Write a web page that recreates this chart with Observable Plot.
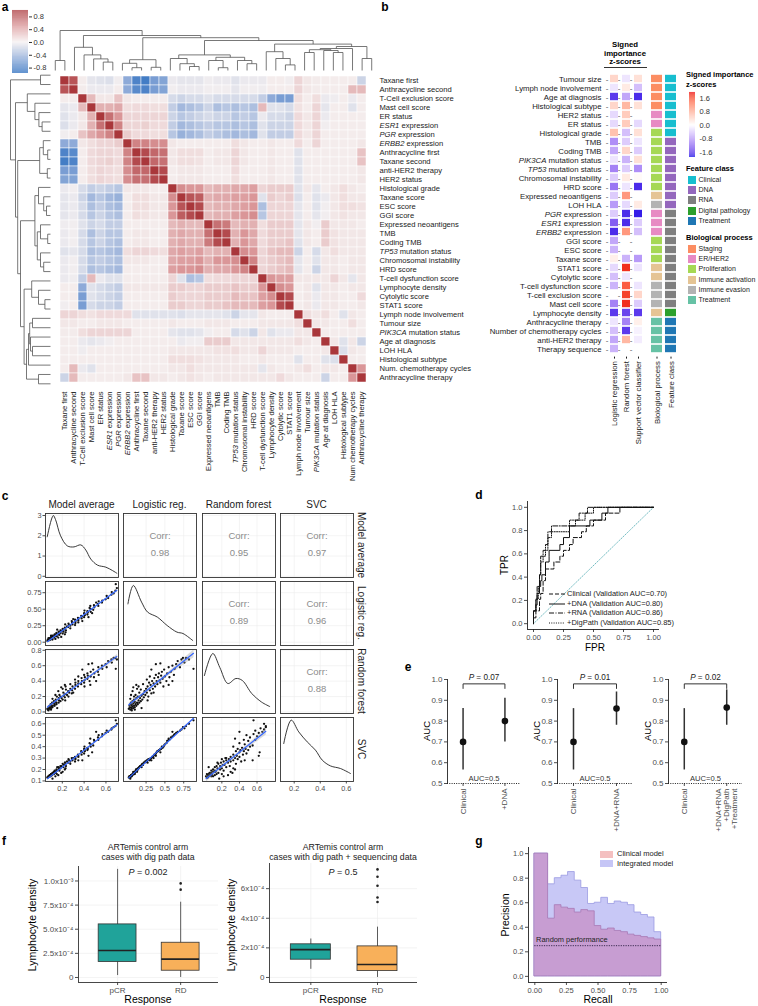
<!DOCTYPE html>
<html><head><meta charset="utf-8">
<script src="https://cdn.jsdelivr.net/npm/d3@7"></script>
<script src="https://cdn.jsdelivr.net/npm/@observablehq/plot@0.6"></script>
<style>
body{margin:0;background:#fff;}
#root{position:relative;width:758px;height:1006px;overflow:hidden;background:#fff;font-family:'Liberation Sans',Arial,Helvetica,sans-serif;}
#root svg{position:absolute;overflow:visible;}
</style></head><body><div id="root"></div>
<script>
// ---------------- DATA ----------------
// Panel a: feature correlation (lower triangle, clustered order)
const aRowLabels = ["Taxane first","Anthracycline second","T-Cell exclusion score","Mast cell score","ER status","ESR1 expression","PGR expression","ERBB2 expression","Anthracycline first","Taxane second","anti-HER2 therapy","HER2 status","Histological grade","Taxane score","ESC score","GGI score","Expressed neoantigens","TMB","Coding TMB","TP53 mutation status","Chromosomal instability","HRD score","T-cell dysfunction score","Lymphocyte density","Cytolytic score","STAT1 score","Lymph node involvement","Tumour size","PIK3CA mutation status","Age at diagnosis","LOH HLA","Histological subtype","Num. chemotherapy cycles","Anthracycline therapy"];
const aColLabels = ["Taxane first","Anthracycline second","T-Cell exclusion score","Mast cell score","ER status","ESR1 expression","PGR expression","ERBB2 expression","Anthracycline first","Taxane second","anti-HER2 therapy","HER2 status","Histological grade","Taxane score","ESC score","GGI score","Expressed neoantigens","TMB","Coding TMB","TP53 mutation status","Chromosomal instability","HRD score","T-cell dysfunction score","Lymphocyte density","Cytolytic score","STAT1 score","Lymph node involvement","Tumour size","PIK3CA mutation status","Age at diagnosis","LOH HLA","Histological subtype","Num chemotherapy cycles","Anthracycline therapy"];
const corrLower = [
[1],
[.85,1],
[.02,.03,1],
[-.08,-.05,.3,1],
[-.1,-.05,.05,.35,1],
[-.12,-.05,.05,.35,.7,1],
[-.02,.02,.25,.4,.5,.6,1],
[-.5,-.5,.05,.1,.15,.15,.2,1],
[-.8,-.75,.02,.12,.15,.15,.12,.6,1],
[-.85,-.8,.02,.12,.15,.18,.12,.6,.9,1],
[-.6,-.6,.02,.1,.15,.12,.1,.55,.75,.75,1],
[-.55,-.55,.02,.1,.15,.12,.1,.55,.7,.7,.9,1],
[-.05,-.02,-.15,-.25,-.2,-.25,-.3,.05,.05,.05,.02,.02,1],
[-.08,-.05,-.2,-.4,-.3,-.4,-.45,.02,.1,.1,.05,.05,.55,1],
[-.08,-.05,-.15,-.35,-.25,-.35,-.4,.02,.1,.1,.05,.05,.5,.85,1],
[-.08,-.05,-.15,-.3,-.2,-.3,-.35,.02,.1,.08,.05,.05,.5,.8,.9,1],
[-.03,-.02,-.1,-.2,-.15,-.25,-.25,.02,.02,.02,.02,.02,.3,.35,.3,.3,1],
[-.05,-.02,-.15,-.35,-.2,-.3,-.3,.02,.05,.05,.02,.02,.35,.4,.35,.35,.7,1],
[-.05,-.02,-.15,-.3,-.2,-.3,-.35,.02,.05,.05,.02,.02,.35,.4,.35,.35,.65,.9,1],
[-.1,-.08,-.15,-.35,-.3,-.35,-.4,.1,.15,.15,.12,.1,.4,.45,.4,.45,.3,.35,.35,1],
[-.05,-.02,-.15,-.3,-.25,-.3,-.35,.05,.05,.05,.02,.02,.4,.45,.45,.5,.35,.5,.5,.55,1],
[-.05,-.02,-.15,-.35,-.3,-.35,-.4,.02,.02,.02,.02,.02,.45,.5,.5,.55,.35,.4,.4,.5,.6,1],
[-.05,-.03,-.25,.3,-.05,-.1,-.1,.02,.02,.02,.02,.02,.15,-.1,-.35,-.3,.1,.12,.12,.15,.15,.15,1],
[.02,.02,-.5,-.1,-.15,-.2,-.25,.05,.05,.05,.05,.05,.2,.2,.15,.15,.2,.2,.2,.25,.2,.2,.5,1],
[.02,.02,-.6,-.1,-.15,-.2,-.25,.02,.02,.02,.02,.02,.2,.15,.15,.15,.2,.2,.2,.3,.25,.25,.45,.55,1],
[-.02,.02,-.6,-.15,-.2,-.2,-.25,.02,.02,.02,.02,.02,.2,.2,.15,.15,.2,.2,.25,.3,.3,.3,.45,.5,.9,1],
[.15,.15,.1,.08,.12,.12,.12,.12,-.1,-.1,-.1,-.1,-.1,-.12,-.08,-.08,-.08,-.08,-.1,-.2,-.08,-.08,.05,.02,.02,.02,1],
[.05,.05,.02,.02,.05,.05,.05,.02,.02,.02,.02,.02,.05,.02,.02,.02,.05,.05,.05,.02,.02,.02,.05,.05,.05,.05,.1,1],
[.03,.03,.1,.15,.15,.15,.15,.15,.02,.02,.02,.02,-.08,-.1,-.1,-.08,-.02,.02,.02,-.15,-.1,-.2,.05,-.1,-.05,-.05,.05,.05,1],
[.02,.02,-.05,-.08,-.05,-.02,.02,.02,.02,.02,.02,.02,.02,-.05,-.02,-.02,.2,.2,.2,.05,.05,.05,.05,.05,.05,.05,.1,.05,.02,1],
[.02,.02,-.03,.02,.02,.02,.02,.02,.02,.02,.02,.02,.05,.05,.05,.05,.05,.08,.08,.1,.05,.05,.15,.05,.05,.05,.02,.02,.02,.05,1],
[.02,.02,.02,.02,.02,.02,.02,.02,.02,.02,.02,.02,.1,.1,.1,.08,.05,.05,.05,.05,.02,.02,.05,.02,.02,.02,-.1,.02,.02,-.1,-.12,1],
[.02,.3,-.05,-.1,.02,.02,.02,.02,.02,.02,.02,.02,.05,.05,.1,.05,.05,.05,.05,.05,.05,.05,-.08,.05,.02,.02,.05,.1,.02,.05,.05,.02,1],
[-.2,.3,.02,.02,.02,.02,.02,.05,.25,.25,.05,.05,.02,.05,.08,.05,.02,.05,.05,.05,.05,.05,.05,.05,.12,.05,.02,.02,.02,-.2,.02,.02,.5,1]
];
// hierarchical clustering merges: [childA, childB, height]; numbers = leaves, "nK" = K-th merge
const aMerges = [
[1,2,.25],[6,7,.21],[5,"n1",.29],[4,"n2",.39],[3,"n3",.58],
[9,10,.07],[11,12,.08],[8,"n5",.18],["n7","n6",.27],
[15,16,.1],[14,"n9",.17],[13,"n10",.3],[18,19,.07],[17,"n12",.25],[21,22,.17],[20,"n14",.25],["n13","n15",.33],["n11","n16",.39],
[25,26,.14],[24,"n18",.3],[23,"n19",.47],
[27,28,.45],[30,31,.45],[29,"n22",.5],["n21","n23",.52],["n24",32,.55],[33,34,.3],["n25","n26",.6],
["n20","n27",.66],["n17","n28",.75],["n8","n29",.82],["n4","n30",.875],["n0","n31",1.0]
];
const aLegendTicks = [0.8,0.4,0,-0.4,-0.8];

// Panel b: signed importance z-scores
const bFeatures = ["Tumour size","Lymph node involvement","Age at diagnosis","Histological subtype","HER2 status","ER status","Histological grade","TMB","Coding TMB","PIK3CA mutation status","TP53 mutation status","Chromosomal instability","HRD score","Expressed neoantigens","LOH HLA","PGR expression","ESR1 expression","ERBB2 expression","GGI score","ESC score","Taxane score","STAT1 score","Cytolytic score","T-cell dysfunction score","T-cell exclusion score","Mast cell score","Lymphocyte density","Anthracycline therapy","Number of chemotherapy cycles","anti-HER2 therapy","Therapy sequence"];
const bModels = ["Logistic regression","Random forest","Support vector classifier"];
const zLR  = [0.4,-0.2,-1.6,0.4,-0.3,-0.3,0.6,-0.9,-0.7,-0.2,-1.0,-0.4,-1.1,-0.4,-0.8,-0.4,-1.3,-1.7,-0.7,-0.6,0.15,-0.3,-0.5,-0.6,null,-1.0,-1.6,-0.2,-0.5,-0.7,-0.6];
const zRF  = [-0.2,0.2,-0.7,0.7,0.5,0.5,-0.5,-0.4,0.4,-0.6,-0.4,0.2,-0.2,1.0,-0.3,-1.7,-1.7,1.0,null,null,-0.6,1.8,-0.2,1.5,1.7,1.8,-1.5,-1.0,-1.6,0.7,null];
const zSVC = [0.3,-0.5,-1.7,0.3,null,-0.3,0.3,-0.2,-0.4,0.3,-0.9,0.05,-1.7,null,0.2,-1.8,-0.4,-0.5,null,null,-0.8,-0.2,null,-0.2,0.4,-0.4,-1.6,0.15,-0.1,-0.15,null];
const bBio = ["Staging","Staging","Staging","Staging","ER/HER2","ER/HER2","Proliferation","Proliferation","Proliferation","Proliferation","Proliferation","Proliferation","Proliferation","Immune activation","Immune evasion","ER/HER2","ER/HER2","ER/HER2","Proliferation","Proliferation","Proliferation","Immune activation","Immune activation","Immune evasion","Immune evasion","Immune evasion","Immune activation","Treatment","Treatment","Treatment","Treatment"];
const bClass = ["Clinical","Clinical","Clinical","Clinical","Clinical","Clinical","Clinical","DNA","DNA","DNA","DNA","DNA","DNA","DNA","DNA","RNA","RNA","RNA","RNA","RNA","RNA","RNA","RNA","RNA","RNA","RNA","Digital pathology","Treatment","Treatment","Treatment","Treatment"];
const classNames = ["Clinical","DNA","RNA","Digital pathology","Treatment"];
const classColors = ["#17becf","#9467bd","#7f7f7f","#2ca02c","#1f77b4"];
const bioNames = ["Staging","ER/HER2","Proliferation","Immune activation","Immune evasion","Treatment"];
const bioColors = ["#fc8d62","#e78ac3","#a6d854","#e5c494","#b3b3b3","#66c2a5"];
const bLegendTicks = [1.6,0.8,0,-0.8,-1.6];

// Panel c: predicted probabilities per patient (logistic reg., random forest, SVC)
const lrP = [0.02,0.03,0.04,0.03,0.05,0.06,0.04,0.07,0.05,0.08, 0.06,0.09,0.07,0.10,0.08,0.11,0.09,0.12,0.10,0.13, 0.05,0.12,0.14,0.11,0.15,0.13,0.16,0.14,0.17,0.08, 0.18,0.16,0.19,0.20,0.12,0.21,0.18,0.22,0.04,0.06, 0.10,0.23,0.24,0.25,0.21,0.26,0.27,0.28,0.29,0.30, 0.26,0.31,0.32,0.33,0.34,0.30,0.35,0.36,0.37,0.38, 0.39,0.40,0.41,0.42,0.43,0.44,0.45,0.46,0.47,0.48, 0.49,0.50,0.52,0.53,0.55,0.56,0.58,0.60,0.62,0.63, 0.65,0.67,0.70,0.72,0.74,0.76,0.78,0.82,0.88,0.35, 0.27,0.15,0.19,0.09,0.38,0.44,0.32,0.55,0.60,0.07];
const rfP = [0.04,0.05,0.03,0.08,0.06,0.04,0.10,0.07,0.12,0.05, 0.09,0.08,0.14,0.06,0.11,0.10,0.16,0.08,0.13,0.12, 0.22,0.18,0.10,0.22,0.15,0.30,0.12,0.20,0.18,0.32, 0.14,0.25,0.21,0.16,0.35,0.23,0.29,0.19,0.17,0.02, 0.03,0.27,0.22,0.30,0.36,0.25,0.33,0.20,0.38,0.28, 0.42,0.35,0.24,0.40,0.30,0.46,0.37,0.44,0.33,0.48, 0.40,0.36,0.45,0.50,0.41,0.38,0.47,0.52,0.43,0.33, 0.55,0.46,0.40,0.50,0.58,0.45,0.52,0.60,0.48,0.56, 0.62,0.66,0.58,0.68,0.70,0.64,0.70,0.68,0.56,0.25, 0.15,0.33,0.05,0.20,0.62,0.63,0.55,0.35,0.40,0.27];
const svcP = [0.13,0.14,0.13,0.14,0.15,0.15,0.14,0.16,0.15,0.16, 0.15,0.17,0.16,0.17,0.18,0.18,0.17,0.19,0.18,0.19, 0.14,0.20,0.20,0.19,0.21,0.18,0.22,0.21,0.23,0.17, 0.23,0.22,0.24,0.25,0.20,0.24,0.23,0.26,0.12,0.14, 0.16,0.26,0.27,0.27,0.25,0.28,0.28,0.29,0.29,0.29, 0.27,0.30,0.30,0.31,0.31,0.28,0.32,0.33,0.33,0.34, 0.35,0.36,0.36,0.37,0.37,0.38,0.38,0.40,0.39,0.40, 0.41,0.42,0.43,0.45,0.46,0.46,0.48,0.49,0.50,0.51, 0.52,0.53,0.54,0.55,0.57,0.56,0.58,0.60,0.63,0.30, 0.26,0.21,0.22,0.16,0.32,0.35,0.28,0.47,0.53,0.15];
// density curves
const densMAx = [0.062,0.117,0.138,0.184,0.246,0.307,0.369,0.415,0.461,0.523,0.599,0.661,0.70];
const densMAy = [1.95,3.0,2.8,2.0,1.5,1.45,1.55,1.3,0.85,0.55,0.45,0.28,0.15];
const densLRx = [0.009,0.08,0.19,0.27,0.40,0.53,0.66,0.74,0.87];
const densLRy = [2.08,3.0,2.17,1.67,1.42,1.0,0.67,0.6,0.25];
const densRFx = [0.002,0.097,0.177,0.268,0.36,0.433,0.54,0.652,0.744];
const densRFy = [1.9,3.0,2.3,1.5,1.75,1.65,1.0,0.57,0.35];
const densSVCx = [0.12,0.177,0.235,0.30,0.363,0.415,0.478,0.555,0.632];
const densSVCy = [1.9,3.07,2.48,1.98,1.57,1.07,0.78,0.65,0.4];
const cTitles = ["Model average","Logistic reg.","Random forest","SVC"];
const corrPairs = {"0-1":"0.98","0-2":"0.95","0-3":"0.97","1-2":"0.89","1-3":"0.96","2-3":"0.88"};

// Panel d: ROC curves
const rocNames = ["Clinical (Validation AUC=0.70)","+DNA (Validation AUC=0.80)","+RNA (Validation AUC=0.86)","+DigPath (Validation AUC=0.85)"];
const rocClinFpr = [0,0,0.02,0.05,0.06,0.08,0.10,0.17,0.22,0.25,0.30,0.33,0.40,0.44,0.50,0.60,0.72,1];
const rocClinTpr = [0,0.05,0.11,0.21,0.26,0.37,0.47,0.53,0.58,0.63,0.68,0.74,0.79,0.84,0.89,0.95,1,1];
const rocDnaFpr = [0,0,0.02,0.03,0.05,0.06,0.07,0.10,0.10,0.13,0.13,0.22,0.25,0.30,0.30,0.47,0.50,0.57,0.62,1];
const rocDnaTpr = [0,0.11,0.16,0.26,0.32,0.37,0.42,0.47,0.53,0.58,0.63,0.68,0.74,0.79,0.84,0.89,0.89,0.95,1,1];
const rocRnaFpr = [0,0,0.02,0.03,0.05,0.06,0.08,0.10,0.12,0.15,0.32,0.35,0.38,0.45,1];
const rocRnaTpr = [0,0.11,0.21,0.32,0.42,0.58,0.63,0.68,0.79,0.84,0.84,0.89,0.95,1,1];
const rocDigFpr = [0,0,0.02,0.04,0.05,0.06,0.08,0.10,0.12,0.15,0.27,0.30,0.40,0.43,0.50,1];
const rocDigTpr = [0,0.11,0.21,0.32,0.42,0.53,0.58,0.63,0.74,0.79,0.79,0.89,0.89,0.95,1,1];

// Panel e: AUC with 95% CI
const eModels = ["+DNA","+DNA+RNA","+DNA+RNA\n+DigPath\n+Treatment"];
const eAuc = [0.80,0.86,0.865];
const eLo = [0.70,0.78,0.78];
const eHi = [0.91,0.94,0.95];
const eClinAuc = 0.70, eClinLo = 0.565, eClinHi = 0.86;
const eP = ["0.07","0.01","0.02"];

// Panel f: lymphocyte density boxplots (summary statistics)
const fGroups = ["pCR","RD"];
const fLeftStats = [ {lo:0.2e-4,q1:1.6e-4,med:2.8e-4,q3:5.5e-4,hi:11.2e-4}, {lo:0,q1:0.7e-4,med:1.9e-4,q3:3.6e-4,hi:7.8e-4} ];
const fLeftOutRD = [9.1e-4,9.75e-4];
const fRightStats = [ {lo:0.55e-4,q1:1.2e-4,med:1.88e-4,q3:2.24e-4,hi:2.6e-4}, {lo:0,q1:0.43e-4,med:0.88e-4,q3:2.1e-4,hi:3.4e-4} ];
const fRightOutRD = [5.1e-4,5.4e-4,6.2e-4,6.8e-4,7.3e-4];

// Panel g: precision by recall bins
const gRecallEdges = [0,0.0526,0.105,0.158,0.211,0.263,0.316,0.368,0.421,0.474,0.526,0.579,0.632,0.684,0.737,0.789,0.842,0.895,0.947,1.0];
const gPrecInt  = [1.0,1.0,0.75,0.80,0.82,0.85,0.78,0.72,0.59,0.60,0.64,0.59,0.61,0.60,0.58,0.52,0.50,0.48,0.36];
const gPrecClin = [1.0,1.0,0.47,0.58,0.56,0.55,0.52,0.54,0.53,0.41,0.38,0.39,0.37,0.36,0.34,0.33,0.32,0.31,0.30];

// ---------------- HELPERS ----------------
const FONT = "'Liberation Sans', Arial, Helvetica, sans-serif";
const root = document.getElementById("root");
function st(size, color="#4d4d4d"){ return {fontFamily: FONT, fontSize: size+"px", color, background: "transparent", overflow: "visible"}; }
function put(svg, left, top){ svg.style.position="absolute"; svg.style.left=left+"px"; svg.style.top=top+"px"; svg.style.maxWidth="none"; italicize(svg); root.appendChild(svg); return svg; }
function T(html, x, y, o={}){
  const d=document.createElement("div"); d.innerHTML=html; const s=d.style;
  s.position="absolute"; s.left=x+"px"; s.top=y+"px"; s.whiteSpace="nowrap"; s.lineHeight=(o.lh||1.15);
  s.fontSize=(o.size||9)+"px"; s.fontFamily=FONT; s.color=o.color||"#000";
  if(o.bold) s.fontWeight="bold"; if(o.align) s.textAlign=o.align;
  const tx = o.anchor==="start"?"0":o.anchor==="end"?"-100%":"-50%";
  s.transform=`translate(${tx},-50%)`+(o.rot?` rotate(${o.rot}deg)`:"");
  root.appendChild(d); return d;
}
function italicize(svg){
  const toks=["PIK3CA","TP53","ESR1","PGR","ERBB2","P"];
  svg.querySelectorAll("text, tspan").forEach(t=>{
    if(t.childElementCount) return;
    const s=t.textContent;
    for(const g of toks){
      if(s.startsWith(g+" ")){
        t.textContent="";
        const ts=document.createElementNS("http://www.w3.org/2000/svg","tspan");
        ts.setAttribute("font-style","italic"); ts.textContent=g;
        t.appendChild(ts); t.appendChild(document.createTextNode(s.slice(g.length)));
        break;
      }
    }
  });
}
const SUP={"-":"⁻","0":"⁰","1":"¹","2":"²","3":"³","4":"⁴","5":"⁵","6":"⁶","7":"⁷","8":"⁸","9":"⁹"};
function sci(v, digits){ if(Math.abs(v)<1e-12) return "0"; const e=Math.floor(Math.log10(v)+1e-9); const m=v/Math.pow(10,e); return m.toFixed(digits)+"x10"+String(e).split("").map(c=>SUP[c]).join(""); }

// ---------------- PANEL LETTERS ----------------
[["a",5,8],["b",385,8],["c",5,497],["d",479,496],["e",408,668],["f",4,842],["g",479,842]].forEach(([l,x,y])=>T(l,x,y,{size:12,bold:true}));

// ---------------- PANEL A ----------------
const vlag = {type:"linear", domain:[-1,-0.5,0,0.5,1], range:["#2369bd","#8eaad8","#f5f0f0","#da9698","#a9373b"], clamp:true};
const cellsA=[];
for(let i=0;i<34;i++) for(let j=0;j<34;j++){
  const v = j<=i ? corrLower[i][j] : corrLower[j][i];
  cellsA.push({r:i, c:j, v: v==null?0:v});
}
put(Plot.plot({
  width:500, height:482, marginLeft:50, marginTop:70, marginRight:124, marginBottom:94,
  x:{type:"band", domain:d3.range(34), padding:0, axis:"bottom", tickRotate:-90, tickSize:0, tickPadding:3, tickFormat:i=>aColLabels[i], label:null},
  y:{type:"band", domain:d3.range(34), padding:0, axis:"right", tickSize:0, tickPadding:3, tickFormat:i=>aRowLabels[i], label:null},
  color:vlag,
  style:st(7.6,"#1a1a1a"),
  marks:[Plot.cell(cellsA,{x:"c", y:"r", fill:"v", stroke:"white", strokeWidth:0.5})]
}),0,0);
// dendrograms
function dendroSegs(merges){
  const pos={}, hgt={}; for(let i=1;i<=34;i++){pos[i]=i;hgt[i]=0;}
  const segs=[];
  merges.forEach(([a,b,h],k)=>{
    segs.push({p1:pos[a],h1:hgt[a],p2:pos[a],h2:h});
    segs.push({p1:pos[b],h1:hgt[b],p2:pos[b],h2:h});
    segs.push({p1:pos[a],h1:h,p2:pos[b],h2:h});
    pos["n"+k]=(pos[a]+pos[b])/2; hgt["n"+k]=h;
  });
  return segs;
}
const dsegs = dendroSegs(aMerges);
put(Plot.plot({
  width:500, height:72, marginLeft:50, marginRight:124, marginTop:30, marginBottom:2,
  x:{domain:[0.5,34.5], axis:null}, y:{domain:[0,1], axis:null}, style:st(8),
  marks:[Plot.link(dsegs,{x1:"p1",y1:"h1",x2:"p2",y2:"h2",stroke:"#555",strokeWidth:0.8})]
}),0,0);
put(Plot.plot({
  width:52, height:482, marginLeft:10, marginRight:2, marginTop:70, marginBottom:94,
  x:{domain:[1,0], axis:null}, y:{domain:[0.5,34.5], reverse:true, axis:null}, style:st(8),
  marks:[Plot.link(dsegs,{x1:"h1",y1:"p1",x2:"h2",y2:"p2",stroke:"#555",strokeWidth:0.8})]
}),0,0);
// colour bar
const aSlices = d3.range(-0.97,1.0,0.01).map(v=>({a:v,b:v+0.011}));
put(Plot.plot({
  width:60, height:80, marginLeft:12, marginRight:32, marginTop:10, marginBottom:7,
  x:{domain:[0,1], axis:null},
  y:{domain:[-0.97,1.0], axis:"right", ticks:aLegendTicks, tickFormat:d=>d.toFixed(1), tickSize:3, tickPadding:2, label:null},
  color:vlag, style:st(7.5,"#333"),
  marks:[Plot.rect(aSlices,{x1:0,x2:1,y1:"a",y2:"b",fill:"a"})]
}),0,0);

// ---------------- PANEL B ----------------
const zCols=[zLR,zRF,zSVC];
const zData=[], dashData=[];
bFeatures.forEach((f,i)=>bModels.forEach((m,k)=>{ dashData.push({f,m}); const z=zCols[k][i]; if(z!=null) zData.push({f,m,z}); }));
const zScale = {type:"linear", domain:[-1.9,0,1.9], range:["#0a0ae6","#ffffff","#ee1111"], interpolate:"lab", clamp:true};
put(Plot.plot({
  width:270, height:449, marginLeft:224, marginRight:3, marginTop:70.4, marginBottom:92.4,
  x:{type:"band", domain:bModels, padding:0.35, tickRotate:-90, tickSize:2, tickPadding:2, label:null},
  y:{type:"band", domain:bFeatures, padding:0, tickSize:0, tickPadding:3, label:null},
  color:zScale, style:st(7.8,"#1a1a1a"),
  marks:[
    Plot.text(dashData,{x:"m", y:"f", text:()=>"-", dx:-7.3, fill:"#555", fontSize:8}),
    Plot.cell(zData,{x:"m", y:"f", fill:"z", insetTop:0.8, insetBottom:0.8})
  ]
}),380,0);
const clsData=[];
bFeatures.forEach((f,i)=>{ clsData.push({f, m:"Biological process", k:"bp:"+bBio[i]}); clsData.push({f, m:"Feature class", k:"fc:"+bClass[i]}); });
put(Plot.plot({
  width:45, height:449, marginLeft:8, marginRight:5, marginTop:70.4, marginBottom:92.4,
  x:{type:"band", domain:["Biological process","Feature class"], padding:0.2, tickRotate:-90, tickSize:2, tickPadding:2, label:null},
  y:{type:"band", domain:bFeatures, padding:0, axis:null},
  color:{type:"ordinal", domain:bioNames.map(n=>"bp:"+n).concat(classNames.map(n=>"fc:"+n)), range:bioColors.concat(classColors)},
  style:st(7.8,"#1a1a1a"),
  marks:[Plot.cell(clsData,{x:"m", y:"f", fill:"k", insetTop:0.8, insetBottom:0.8})]
}),640,0);
T("<b>Signed<br>importance<br>z-scores</b>",625,54,{size:7.8,align:"center",lh:1.12});
(()=>{const d=document.createElement("div");Object.assign(d.style,{position:"absolute",left:"604px",top:"67px",width:"43px",borderTop:"1px solid #333"});root.appendChild(d);})();
// legends b
T("Signed importance",686,75,{size:7.5,bold:true,anchor:"start"});
T("z-scores",686,85,{size:7.5,bold:true,anchor:"start"});
const bSlices = d3.range(-1.9,1.96,0.02).map(v=>({a:v,b:v+0.022}));
put(Plot.plot({
  width:40, height:74, marginLeft:5, marginRight:29, marginTop:4, marginBottom:5,
  x:{domain:[0,1], axis:null},
  y:{domain:[-1.9,1.96], axis:"right", ticks:bLegendTicks, tickFormat:d=>d.toFixed(1), tickSize:0, tickPadding:4, label:null},
  color:zScale, style:st(7.5,"#333"),
  marks:[Plot.rect(bSlices,{x1:0,x2:1,y1:"a",y2:"b",fill:"a"})]
}),684,88);
function swatches(title, names, colors, y0){
  T(title,686,y0,{size:7.5,bold:true,anchor:"start"});
  names.forEach((n,i)=>{
    const y=y0+11+i*10.2;
    const s=document.createElement("div");
    Object.assign(s.style,{position:"absolute",left:"688px",top:(y-4)+"px",width:"8px",height:"8px",background:colors[i]});
    root.appendChild(s);
    T(n,698.5,y,{size:7,anchor:"start",color:"#222"});
  });
}
swatches("Feature class",classNames,classColors,169);
swatches("Biological process",bioNames,bioColors,238);

// ---------------- PANEL C ----------------
const pts = lrP.map((l,i)=>({LR:l, RF:rfP[i], SVC:svcP[i], MA:(l+rfP[i]+svcP[i])/3}));
const cVars=["MA","LR","RF","SVC"];
const cDom={MA:[0.046,0.715], LR:[-0.05,0.92], RF:[-0.02,0.81], SVC:[0.095,0.655]};
const cTY={MA:[0,1,2,3], LR:[0,0.25,0.5,0.75], RF:[0,0.2,0.4,0.6,0.8], SVC:[0.1,0.2,0.3,0.4,0.5,0.6]};
const cFY={MA:d=>String(d), LR:d=>d.toFixed(2), RF:d=>d.toFixed(1), SVC:d=>d.toFixed(1)};
const cTX={MA:[0.2,0.4,0.6], LR:[0.25,0.5,0.75], RF:[0.2,0.4,0.6], SVC:[0.2,0.4,0.6]};
const cFX={MA:d=>d.toFixed(1), LR:d=>String(d), RF:d=>d.toFixed(1), SVC:d=>d.toFixed(1)};
const dens={MA:[densMAx,densMAy], LR:[densLRx,densLRy], RF:[densRFx,densRFy], SVC:[densSVCx,densSVCy]};
const cLeft=[45,123,202,280], cTop=[513,581,649,717], cW=73, cH=64;
for(let r=0;r<4;r++) for(let c=0;c<4;c++){
  const vx=cVars[c], vy=cVars[r];
  const ydom = r===0 ? [-0.06,3.1] : (r===c ? [0,3.2] : cDom[vy]);
  const yt = cTY[vy];
  const marks=[
    Plot.ruleX(cTX[vx],{stroke:"#ececec",strokeWidth:0.6}),
    Plot.ruleY(r===c && r>0 ? [] : yt,{stroke:"#ececec",strokeWidth:0.6})
  ];
  if(r===c){
    const [dx,dy]=dens[vx];
    marks.push(Plot.line(dx.map((x,i)=>({x,y:dy[i]})),{x:"x",y:"y",curve:"catmull-rom",stroke:"#222",strokeWidth:0.9}));
  } else if(r>c){
    marks.push(Plot.dot(pts,{x:vx,y:vy,r:1.15,fill:"#111"}));
    marks.push(Plot.linearRegressionY(pts,{x:vx,y:vy,stroke:"#3366ff",strokeWidth:1.2,fill:"#999",fillOpacity:0.35}));
  } else {
    const val=corrPairs[r+"-"+c];
    marks.push(Plot.text(["Corr:"],{frameAnchor:"top",dy:19,fill:"#8c8c8c",fontSize:9.5}));
    marks.push(Plot.text([val],{frameAnchor:"top",dy:36,fill:"#8c8c8c",fontSize:9.5}));
  }
  marks.push(Plot.frame({stroke:"#333",strokeWidth:0.9}));
  put(Plot.plot({
    width:30+cW+2, height:2+cH+16, marginLeft:30, marginRight:2, marginTop:2, marginBottom:16,
    x:{domain:cDom[vx], axis: r===3?"bottom":null, ticks:cTX[vx], tickFormat:cFX[vx], tickSize:2.5, tickPadding:1.5, label:null},
    y:{domain:ydom, axis: c===0?"left":null, ticks:yt, tickFormat:cFY[vy], tickSize:2.5, tickPadding:1.5, label:null},
    style:st(7.3,"#4d4d4d"), marks
  }), cLeft[c]-30, cTop[r]-2);
}
cTitles.forEach((t,i)=>{
  T(t, cLeft[i]+cW/2, 505, {size:10, color:"#1a1a1a"});
  T(t, 361, cTop[i]+cH/2, {size:10, color:"#1a1a1a", rot:90});
});

// ---------------- PANEL D ----------------
const mk=(f,t)=>f.map((x,i)=>({x,y:t[i]}));
put(Plot.plot({
  width:300, height:170, marginLeft:147, marginRight:21, marginTop:11, marginBottom:31,
  x:{domain:[-0.05,1.05], ticks:[0,0.25,0.5,0.75,1], tickFormat:d=>d.toFixed(2), tickSize:3, tickPadding:2, label:null},
  y:{domain:[-0.05,1.05], ticks:[0,0.2,0.4,0.6,0.8,1], tickFormat:d=>d.toFixed(1), tickSize:3, tickPadding:2, label:null},
  style:st(7.5,"#4d4d4d"),
  marks:[
    Plot.line([{x:0,y:0},{x:1,y:1}],{x:"x",y:"y",stroke:"#4aa8b0",strokeWidth:0.8,strokeDasharray:"1,1.6"}),
    Plot.line(mk(rocClinFpr,rocClinTpr),{x:"x",y:"y",curve:"step-after",stroke:"#111",strokeWidth:1,strokeDasharray:"4,2"}),
    Plot.line(mk(rocDnaFpr,rocDnaTpr),{x:"x",y:"y",curve:"step-after",stroke:"#111",strokeWidth:1}),
    Plot.line(mk(rocRnaFpr,rocRnaTpr),{x:"x",y:"y",curve:"step-after",stroke:"#111",strokeWidth:1,strokeDasharray:"5,1.5,1,1.5"}),
    Plot.line(mk(rocDigFpr,rocDigTpr),{x:"x",y:"y",curve:"step-after",stroke:"#111",strokeWidth:1,strokeDasharray:"1,1.3"}),
    Plot.ruleX([-0.05],{stroke:"#222",strokeWidth:0.9}),
    Plot.ruleY([-0.05],{stroke:"#222",strokeWidth:0.9})
  ]
}),380,490);
T("TPR",505,565,{size:10,rot:-90});
T("FPR",595,648,{size:10});
const dashes=["4,2","","5,1.5,1,1.5","1,1.3"];
rocNames.forEach((n,i)=>{
  const y=594+i*9.6;
  const s=document.createElementNS("http://www.w3.org/2000/svg","svg");
  s.setAttribute("width","16"); s.setAttribute("height","4");
  Object.assign(s.style,{position:"absolute",left:"549px",top:(y-2)+"px"});
  const l=document.createElementNS("http://www.w3.org/2000/svg","line");
  l.setAttribute("x1","0");l.setAttribute("x2","16");l.setAttribute("y1","2");l.setAttribute("y2","2");
  l.setAttribute("stroke","#111");l.setAttribute("stroke-width","1");if(dashes[i])l.setAttribute("stroke-dasharray",dashes[i]);
  s.appendChild(l); root.appendChild(s);
  T(n,567,y,{size:7.5,anchor:"start",color:"#222"});
});

// ---------------- PANEL E ----------------
const eLeft=[395,505,616], eMR=[10,8,9];
eModels.forEach((m,k)=>{
  const names=["Clinical",m];
  const data=[{i:0,auc:eClinAuc,lo:eClinLo,hi:eClinHi},{i:1,auc:eAuc[k],lo:eLo[k],hi:eHi[k]}];
  put(Plot.plot({
    width:135, height:175, marginLeft:52, marginRight:eMR[k], marginTop:14, marginBottom:57,
    x:{domain:[-0.372,1.372], ticks:[0,1], tickFormat:i=>names[i], tickRotate:-90, tickSize:3, tickPadding:2, label:null},
    y:{domain:[0.5,1.0], ticks:[0.5,0.6,0.7,0.8,0.9,1.0], tickFormat:d=>d.toFixed(1), tickSize:3, tickPadding:2, label:null},
    style:st(8,"#4d4d4d"),
    marks:[
      Plot.ruleX([-0.372],{stroke:"#222",strokeWidth:0.9}),
      Plot.ruleY([0.5],{stroke:"#222",strokeWidth:1,strokeDasharray:"1,1.3"}),
      Plot.text(["AUC=0.5"],{y:0.5,dy:-5,fill:"#333",fontSize:7.6}),
      Plot.ruleX(data,{x:"i",y1:"lo",y2:"hi",stroke:"#333",strokeWidth:1.5}),
      Plot.dot(data,{x:"i",y:"auc",r:3.3,fill:"#111"}),
      Plot.line([{i:0,y:0.957},{i:0,y:0.979},{i:1,y:0.979},{i:1,y:0.957}],{x:"i",y:"y",stroke:"#333",strokeWidth:1}),
      Plot.text(["P = "+eP[k]],{x:0.5,y:0.979,dy:-6,fill:"#222",fontSize:8.2})
    ]
  }), eLeft[k], 665);
  T("AUC", eLeft[k]+32, 731, {size:9.5, rot:-90});
});

// ---------------- PANEL F ----------------
function fPanel(stats, outs, left, width, ml, mr, mt, ydom, ticks, digits){
  const data=stats.map((s,i)=>Object.assign({i, g:fGroups[i]},s));
  const out=outs.map(v=>({i:1,v}));
  return put(Plot.plot({
    width, height:166, marginLeft:ml, marginRight:mr, marginTop:mt, marginBottom:24,
    x:{domain:[-0.62,1.6], ticks:[0,1], tickFormat:i=>fGroups[i], tickSize:3, tickPadding:2, label:null},
    y:{domain:ydom, ticks, tickFormat:d=>sci(d,digits), tickSize:3, tickPadding:2, label:null},
    style:st(8,"#4d4d4d"),
    marks:[
      Plot.ruleY(ticks,{stroke:"#ebebeb",strokeWidth:0.6}),
      Plot.ruleX([0,1],{stroke:"#ebebeb",strokeWidth:0.6}),
      Plot.ruleX(data,{x:"i",y1:"lo",y2:"hi",stroke:"#333",strokeWidth:0.8}),
      Plot.rect(data,{x1:d=>d.i-0.3,x2:d=>d.i+0.3,y1:"q1",y2:"q3",fill:d=>d.i===0?"#20a39a":"#f8b05a",stroke:"#333",strokeWidth:0.8}),
      Plot.ruleY(data,{y:"med",x1:d=>d.i-0.3,x2:d=>d.i+0.3,stroke:"#222",strokeWidth:1.6}),
      Plot.dot(out,{x:"i",y:"v",r:1.3,fill:"#222"}),
      Plot.ruleX([ydom[0]].map(()=>-0.62),{stroke:"#333",strokeWidth:0.9}),
      Plot.ruleY([ydom[0]],{stroke:"#333",strokeWidth:0.9})
    ]
  }), left, 840);
}
fPanel(fLeftStats, fLeftOutRD, 0, 225, 78, 7, 26, [-0.052e-3,1.15e-3], [0,2.5e-4,5e-4,7.5e-4,1e-3], 1);
fPanel(fRightStats, fRightOutRD, 225, 200, 44, 8, 23, [-0.034e-3,0.77e-3], [0,2e-4,4e-4,6e-4], 0);
T("ARTemis control arm",148,847,{size:8.7,color:"#222"});
T("cases with dig path data",148,857,{size:8.7,color:"#222"});
T("<i>P</i> = 0.002",148,872,{size:9,color:"#222"});
T("ARTemis control arm",343,847,{size:8.7,color:"#222"});
T("cases with dig path + sequencing data",343,857,{size:8.7,color:"#222"});
T("<i>P</i> = 0.5",343,872,{size:9,color:"#222"});
T("Lymphocyte density",32,925,{size:10.5,rot:-90});
T("Lymphocyte density",231,925,{size:10.5,rot:-90});
T("Response",148,999,{size:10.5});
T("Response",343,999,{size:10.5});

// ---------------- PANEL G ----------------
function stepPts(prec){ const p=prec.map((v,i)=>({r:gRecallEdges[i],p:v})); p.push({r:gRecallEdges[gRecallEdges.length-1],p:prec[prec.length-1]}); return p; }
put(Plot.plot({
  width:300, height:166, marginLeft:148, marginRight:13, marginTop:7, marginBottom:24,
  x:{domain:[-0.05,1.05], ticks:[0,0.25,0.5,0.75,1], tickFormat:d=>d.toFixed(2), tickSize:3, tickPadding:2, label:null},
  y:{domain:[-0.05,1.05], ticks:[0,0.2,0.4,0.6,0.8,1], tickFormat:d=>d.toFixed(1), tickSize:3, tickPadding:2, label:null},
  style:st(7.5,"#4d4d4d"),
  marks:[
    Plot.areaY(stepPts(gPrecInt),{x:"r",y:"p",curve:"step-after",fill:"#c8c8f6",stroke:"#9a9ae2",strokeWidth:0.8}),
    Plot.areaY(stepPts(gPrecClin),{x:"r",y:"p",curve:"step-after",fill:"#c79dd2",stroke:"#a878b5",strokeWidth:0.8}),
    Plot.ruleY([0.25],{x1:0,x2:1,stroke:"#3a2a50",strokeWidth:1,strokeDasharray:"1.2,1.2"}),
    Plot.text(["Random performance"],{x:0.01,y:0.25,dy:-6,textAnchor:"start",fill:"#222",fontSize:7.4}),
    Plot.ruleX([-0.05],{stroke:"#222",strokeWidth:0.9}),
    Plot.ruleY([-0.05],{stroke:"#222",strokeWidth:0.9})
  ]
}),380,840);
T("Precision",505,915,{size:10.5,rot:-90});
T("Recall",598,999,{size:10.5});
[["Clinical model","#f4c0c0",854],["Integrated model","#c6c6f6",863.5]].forEach(([n,c,y])=>{
  const s=document.createElement("div");
  Object.assign(s.style,{position:"absolute",left:"600px",top:(y-3.5)+"px",width:"13px",height:"7px",background:c});
  root.appendChild(s);
  T(n,617,y,{size:7.5,anchor:"start",color:"#222"});
});
</script></body></html>
